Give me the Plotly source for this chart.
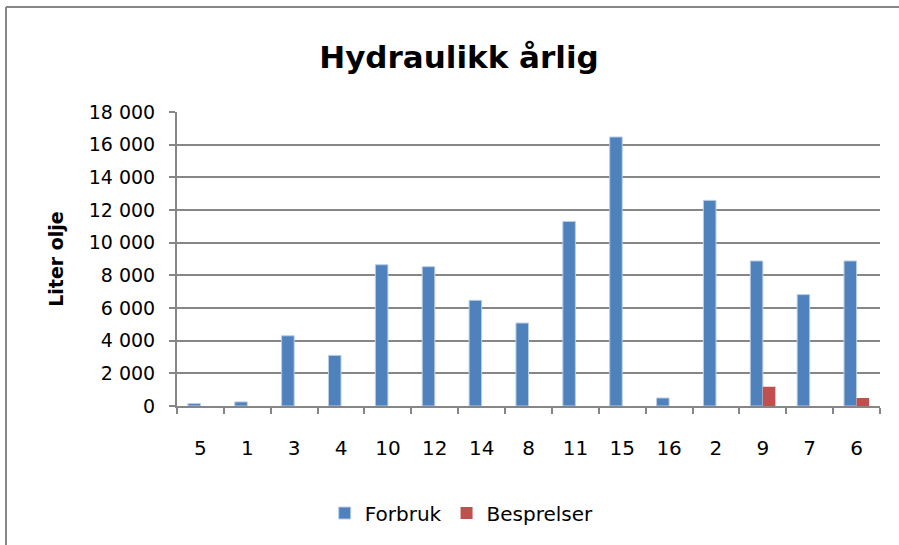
import plotly.graph_objects as go

# Hydraulic oil use per unit, litres per year
units = ["5", "1", "3", "4", "10", "12", "14", "8", "11", "15", "16", "2", "9", "7", "6"]
forbruk = [150, 250, 4300, 3100, 8650, 8530, 6470, 5080, 11300, 16470, 490, 12590, 8880, 6820, 8880]
besprelser = [0, 0, 0, 0, 0, 0, 0, 0, 0, 0, 0, 0, 1180, 0, 490]
y_ticks = list(range(0, 18001, 2000))
y_labels = [f"{v:,}".replace(",", " ") for v in y_ticks]

FONT = "DejaVu Sans"
AXIS_GREY = "#868686"

fig = go.Figure()
fig.add_trace(go.Bar(
    x=units, y=forbruk, name="Forbruk",
    marker=dict(color="#4F81BD", line=dict(color="#B9CDE5", width=1)),
))
fig.add_trace(go.Bar(
    x=units, y=besprelser, name="Besprelser",
    marker=dict(color="#C0504D", line=dict(width=0)),
))

fig.update_layout(
    width=899, height=545,
    margin=dict(l=177, r=19, t=112, b=139),
    paper_bgcolor="white", plot_bgcolor="white",
    font=dict(family=FONT, color="black", size=19),
    barmode="group", bargap=0.465, bargroupgap=0,
    title=dict(
        text="<b>Hydraulikk årlig</b>",
        font=dict(family=FONT, size=31, color="black"),
        x=459 / 899, xanchor="center", xref="container",
        y=1 - 57 / 545, yanchor="middle", yref="container",
    ),
    legend=dict(
        orientation="h", x=0.405, xanchor="center", y=-0.364, yanchor="middle",
        font=dict(family=FONT, size=20), itemwidth=30,
    ),
    showlegend=True,
)

fig.update_xaxes(
    type="category", showgrid=False,
    showline=True, linecolor=AXIS_GREY, linewidth=2,
    ticks="outside", tickson="boundaries", ticklen=6, tickcolor=AXIS_GREY, tickwidth=1.5,
    tickfont=dict(family=FONT, size=20), ticklabelstandoff=23,
)
fig.update_yaxes(
    range=[0, 18000], tickvals=y_ticks, ticktext=y_labels,
    showgrid=True, gridcolor=AXIS_GREY, gridwidth=1.6,
    showline=True, linecolor=AXIS_GREY, linewidth=2,
    ticks="outside", ticklen=6, tickcolor=AXIS_GREY, tickwidth=1.5,
    tickfont=dict(family=FONT, size=19), ticklabelstandoff=10,
    zeroline=False,
    title=dict(text="<b>Liter olje</b>", font=dict(family=FONT, size=19), standoff=20),
)

# Chart frame: top and left edges, kept inside the page
frame_left = (6 - 177) / 703
frame_right = (899 - 177) / 703
frame_top = (406 - 7) / 294
frame_bottom = (406 - 545) / 294
fig.add_shape(type="line", xref="paper", yref="paper",
              x0=frame_left, x1=frame_right, y0=frame_top, y1=frame_top,
              line=dict(color=AXIS_GREY, width=2))
fig.add_shape(type="line", xref="paper", yref="paper",
              x0=frame_left, x1=frame_left, y0=frame_bottom, y1=frame_top,
              line=dict(color=AXIS_GREY, width=2))

fig.write_html(
    "out.html",
    post_script="document.documentElement.style.overflow='hidden';document.body.style.overflow='hidden';",
)
